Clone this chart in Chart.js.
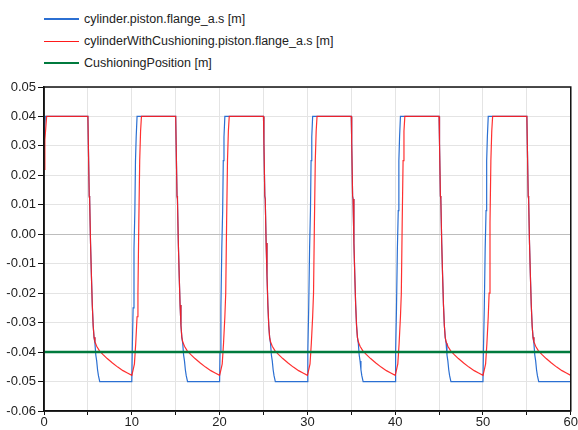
<!DOCTYPE html>
<html lang="en">
<head>
    <meta charset="UTF-8">
    <title>Cylinder piston position</title>
    <style>
        * {
            margin: 0;
            padding: 0;
            box-sizing: border-box;
        }

        body {
            width: 578px;
            height: 430px;
            background: #fff;
            font-family: "Liberation Sans", Arial, sans-serif;
            position: relative;
            overflow: hidden;
        }

        .legend {
            position: absolute;
            left: 44px;
            top: 8px;
            font-size: 12.5px;
            color: #222;
        }

        .legend div {
            height: 22px;
            line-height: 17px;
            display: flex;
            align-items: center;
        }

        .legend span.swatch {
            display: inline-block;
            width: 35px;
            margin-right: 5px;
        }

        #wrap {
            position: absolute;
            left: 0;
            top: 0;
            width: 578px;
            height: 430px;
        }
    </style>
    <script src="https://cdn.jsdelivr.net/npm/chart.js"></script>
</head>
<body>
    <div class="legend">
        <div><span class="swatch" style="border-top: 2px solid #2b6fd2"></span>cylinder.piston.flange_a.s [m]</div>
        <div><span class="swatch" style="border-top: 1.5px solid #ff1a1a"></span>cylinderWithCushioning.piston.flange_a.s [m]</div>
        <div><span class="swatch" style="border-top: 2px solid #007a3d"></span>CushioningPosition [m]</div>
    </div>
    <div id="wrap"><canvas id="chart" width="578" height="430"></canvas></div>

    <script>
        // time [s] and position [m]
        const blueTime = [
            0, 0.15,
            5, 5.05, 5.15, 5.2, 5.3, 5.4, 5.5, 5.6, 5.7, 5.8, 5.9, 6, 6.1, 6.2, 6.35, 10, 10.05, 10.15, 10.25, 10.35, 10.42, 10.5, 10.6,
            15, 15.05, 15.15, 15.2, 15.3, 15.4, 15.5, 15.6, 15.7, 15.8, 15.9, 16, 16.1, 16.2, 16.35, 20, 20.05, 20.15, 20.25, 20.35, 20.42, 20.5, 20.6,
            25, 25.05, 25.15, 25.2, 25.3, 25.4, 25.5, 25.6, 25.7, 25.8, 25.9, 26, 26.1, 26.2, 26.35, 30, 30.05, 30.15, 30.25, 30.35, 30.42, 30.5, 30.6,
            35, 35.05, 35.15, 35.2, 35.3, 35.4, 35.5, 35.6, 35.7, 35.8, 35.9, 36, 36.1, 36.2, 36.35, 40, 40.05, 40.15, 40.25, 40.35, 40.42, 40.5, 40.6,
            45, 45.05, 45.15, 45.2, 45.3, 45.4, 45.5, 45.6, 45.7, 45.8, 45.9, 46, 46.1, 46.2, 46.35, 50, 50.05, 50.15, 50.25, 50.35, 50.42, 50.5, 50.6,
            55, 55.05, 55.15, 55.2, 55.3, 55.4, 55.5, 55.6, 55.7, 55.8, 55.9, 56, 56.1, 56.2, 56.35, 60
        ];
        const blueValue = [
            0.033, 0.04,
            0.04, 0.031, 0.013, 0.012, -0.003, -0.014, -0.024, -0.031, -0.035, -0.037, -0.041, -0.043, -0.046, -0.048, -0.05, -0.05, -0.04, -0.025, -0.005, 0.008, 0.025, 0.033, 0.04,
            0.04, 0.031, 0.013, 0.012, -0.003, -0.014, -0.024, -0.031, -0.035, -0.037, -0.041, -0.043, -0.046, -0.048, -0.05, -0.05, -0.04, -0.025, -0.005, 0.008, 0.025, 0.033, 0.04,
            0.04, 0.031, 0.013, 0.012, -0.003, -0.014, -0.024, -0.031, -0.035, -0.037, -0.041, -0.043, -0.046, -0.048, -0.05, -0.05, -0.04, -0.025, -0.005, 0.008, 0.025, 0.033, 0.04,
            0.04, 0.031, 0.013, 0.012, -0.003, -0.014, -0.024, -0.031, -0.035, -0.037, -0.041, -0.043, -0.046, -0.048, -0.05, -0.05, -0.04, -0.025, -0.005, 0.008, 0.025, 0.033, 0.04,
            0.04, 0.031, 0.013, 0.012, -0.003, -0.014, -0.024, -0.031, -0.035, -0.037, -0.041, -0.043, -0.046, -0.048, -0.05, -0.05, -0.04, -0.025, -0.005, 0.008, 0.025, 0.033, 0.04,
            0.04, 0.031, 0.013, 0.012, -0.003, -0.014, -0.024, -0.031, -0.035, -0.037, -0.041, -0.043, -0.046, -0.048, -0.05, -0.05
        ];

        const redTime = [
            0, 0.1, 0.15, 0.3,
            5, 5.05, 5.15, 5.2, 5.3, 5.4, 5.5, 5.6, 5.7, 5.8, 6, 6.3, 6.7, 7.2, 7.8, 8.4, 9, 9.5, 10, 10.15, 10.3, 10.45, 10.6, 10.7, 10.8, 10.9, 11, 11.1,
            15, 15.05, 15.15, 15.2, 15.3, 15.4, 15.5, 15.6, 15.7, 15.8, 16, 16.3, 16.7, 17.2, 17.8, 18.4, 19, 19.5, 20, 20.15, 20.3, 20.45, 20.6, 20.7, 20.8, 20.9, 21, 21.1,
            25, 25.05, 25.15, 25.2, 25.3, 25.4, 25.5, 25.6, 25.7, 25.8, 26, 26.3, 26.7, 27.2, 27.8, 28.4, 29, 29.5, 30, 30.15, 30.3, 30.45, 30.6, 30.7, 30.8, 30.9, 31, 31.1,
            35, 35.05, 35.15, 35.2, 35.3, 35.4, 35.5, 35.6, 35.7, 35.8, 36, 36.3, 36.7, 37.2, 37.8, 38.4, 39, 39.5, 40, 40.15, 40.3, 40.45, 40.6, 40.7, 40.8, 40.9, 41, 41.1,
            45, 45.05, 45.15, 45.2, 45.3, 45.4, 45.5, 45.6, 45.7, 45.8, 46, 46.3, 46.7, 47.2, 47.8, 48.4, 49, 49.5, 50, 50.15, 50.3, 50.45, 50.6, 50.7, 50.8, 50.9, 51, 51.1,
            55, 55.05, 55.15, 55.2, 55.3, 55.4, 55.5, 55.6, 55.7, 55.8, 56, 56.3, 56.7, 57.2, 57.8, 58.4, 59, 59.5, 60
        ];
        const redValue = [
            0.022, 0.032, 0.034, 0.04,
            0.04, 0.031, 0.013, 0.012, -0.003, -0.014, -0.024, -0.031, -0.035, -0.0365, -0.038, -0.0395, -0.0408, -0.0422, -0.0437, -0.0451, -0.0463, -0.0471, -0.0479, -0.046, -0.044, -0.037, -0.028, -0.02, 0.004, 0.025, 0.035, 0.04,
            0.04, 0.031, 0.013, 0.012, -0.003, -0.014, -0.024, -0.031, -0.035, -0.0365, -0.038, -0.0395, -0.0408, -0.0422, -0.0437, -0.0451, -0.0463, -0.0471, -0.0479, -0.046, -0.044, -0.037, -0.028, -0.02, 0.004, 0.025, 0.035, 0.04,
            0.04, 0.031, 0.013, 0.012, -0.003, -0.014, -0.024, -0.031, -0.035, -0.0365, -0.038, -0.0395, -0.0408, -0.0422, -0.0437, -0.0451, -0.0463, -0.0471, -0.0479, -0.046, -0.044, -0.037, -0.028, -0.02, 0.004, 0.025, 0.035, 0.04,
            0.04, 0.031, 0.013, 0.012, -0.003, -0.014, -0.024, -0.031, -0.035, -0.0365, -0.038, -0.0395, -0.0408, -0.0422, -0.0437, -0.0451, -0.0463, -0.0471, -0.0479, -0.046, -0.044, -0.037, -0.028, -0.02, 0.004, 0.025, 0.035, 0.04,
            0.04, 0.031, 0.013, 0.012, -0.003, -0.014, -0.024, -0.031, -0.035, -0.0365, -0.038, -0.0395, -0.0408, -0.0422, -0.0437, -0.0451, -0.0463, -0.0471, -0.0479, -0.046, -0.044, -0.037, -0.028, -0.02, 0.004, 0.025, 0.035, 0.04,
            0.04, 0.031, 0.013, 0.012, -0.003, -0.014, -0.024, -0.031, -0.035, -0.0365, -0.038, -0.0395, -0.0408, -0.0422, -0.0437, -0.0451, -0.0463, -0.0471, -0.0479
        ];

        const cushionTime = [0, 60];
        const cushionValue = [-0.04, -0.04];

        const xMin = 0, xMax = 60, xStep = 5, xLabelEvery = 10;
        const yMin = -0.06, yMax = 0.05, yStep = 0.01;

        function toPoints(ts, vs) {
            return ts.map((t, i) => ({ x: t, y: vs[i] }));
        }

        // black frame round the plot area
        const frame = {
            id: 'frame',
            afterDraw(chart) {
                const a = chart.chartArea;
                const c = chart.ctx;
                c.save();
                c.strokeStyle = '#111';
                c.lineWidth = 1.5;
                c.strokeRect(a.left, a.top, a.right - a.left, a.bottom - a.top);
                c.restore();
            }
        };

        Chart.defaults.font.family = '"Liberation Sans", Arial, sans-serif';
        Chart.defaults.font.size = 13;
        Chart.defaults.color = '#222';

        new Chart(document.getElementById('chart'), {
            type: 'line',
            data: {
                datasets: [
                    {
                        label: 'CushioningPosition [m]',
                        data: toPoints(cushionTime, cushionValue),
                        borderColor: '#007a3d',
                        borderWidth: 2.5,
                        pointRadius: 0,
                        order: 0
                    },
                    {
                        label: 'cylinderWithCushioning.piston.flange_a.s [m]',
                        data: toPoints(redTime, redValue),
                        borderColor: 'rgba(255, 26, 26, 0.9)',
                        borderWidth: 1.2,
                        pointRadius: 0,
                        order: 1
                    },
                    {
                        label: 'cylinder.piston.flange_a.s [m]',
                        data: toPoints(blueTime, blueValue),
                        borderColor: '#2b6fd2',
                        borderWidth: 1.2,
                        pointRadius: 0,
                        order: 2
                    }
                ]
            },
            options: {
                responsive: false,
                animation: false,
                layout: { padding: { top: 87, right: 5, left: 0, bottom: 0 } },
                plugins: {
                    legend: { display: false },
                    tooltip: { enabled: false }
                },
                scales: {
                    x: {
                        type: 'linear',
                        min: xMin,
                        max: xMax,
                        border: { color: '#111', width: 1.5 },
                        grid: { color: '#e4e4e4', tickColor: '#111', tickLength: 4 },
                        ticks: {
                            stepSize: xStep,
                            padding: 0,
                            maxRotation: 0,
                            autoSkip: false,
                            callback: v => (v % xLabelEvery === 0 ? String(v) : '')
                        },
                        afterFit: s => { s.height = 19; }
                    },
                    y: {
                        min: yMin,
                        max: yMax,
                        border: { color: '#111', width: 1.5 },
                        grid: {
                            color: c => (Math.abs(c.tick.value) < 1e-9 ? '#bdbdbd' : '#e4e4e4'),
                            tickColor: '#111',
                            tickLength: 6
                        },
                        ticks: {
                            stepSize: yStep,
                            padding: 2,
                            autoSkip: false,
                            callback: v => (Math.round(v * 100) / 100 + 0).toFixed(2)
                        },
                        afterFit: s => { s.width = 44; }
                    }
                }
            },
            plugins: [frame]
        });
    </script>
</body>
</html>
